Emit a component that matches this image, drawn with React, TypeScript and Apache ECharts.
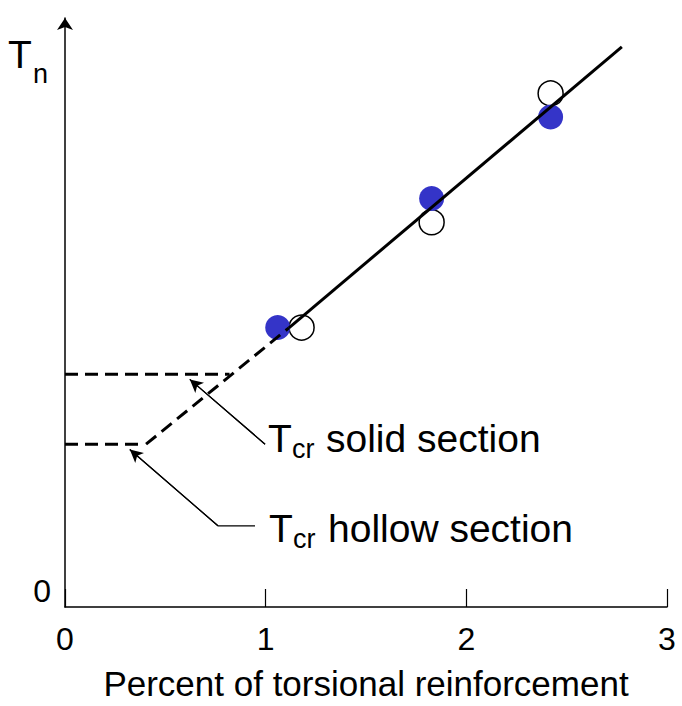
import React, { useEffect, useRef } from "react";
import * as echarts from "echarts";

// ---- data (x: percent of torsional reinforcement, y: relative torque, 0..100) ----
const xTicks = [0, 1, 2, 3];
const solidSection: number[][] = [
  [1.06, 47.45],
  [1.827, 69.35],
  [2.42, 83.2],
];
const hollowSection: number[][] = [
  [1.179, 47.45],
  [1.827, 65.33],
  [2.42, 87.2],
];
const fitLine: number[][] = [
  [1.116, 47.4],
  [2.775, 95.1],
];
const crackingLine: number[][] = [
  [0.404, 27.64],
  [1.116, 47.4],
];
const tcrSolidLevel: number[][] = [
  [0, 39.53],
  [0.82, 39.53],
];
const tcrHollowLevel: number[][] = [
  [0, 27.64],
  [0.364, 27.64],
];
const leaderSolid: number[][] = [
  [0.997, 27.64],
  [0.622, 38.64],
];
const leaderHollow: number[][] = [
  [0.947, 13.79],
  [0.762, 13.79],
  [0.323, 26.75],
];

const FONT = "'Liberation Sans', Arial, Helvetica, sans-serif";

function dashed(data: number[][]) {
  return {
    type: "line",
    data,
    symbol: "none",
    silent: true,
    z: 4,
    lineStyle: { color: "#000", width: 3, type: [13, 7] },
    emphasis: { disabled: true },
  };
}

function leader(data: number[][]) {
  const n = data.length;
  return {
    type: "line",
    data,
    symbol: "none",
    silent: true,
    z: 4,
    lineStyle: { color: "#000", width: 1.2 },
    emphasis: { disabled: true },
    markLine: {
      silent: true,
      animation: false,
      symbol: ["none", "arrow"],
      symbolSize: [10, 13],
      label: { show: false },
      lineStyle: { color: "#000", width: 1.2, type: "solid" },
      itemStyle: { color: "#000" },
      emphasis: { disabled: true },
      data: [[{ coord: data[n - 2] }, { coord: data[n - 1] }]],
    },
  };
}

function txt(x: number, y: number, text: string, size: number) {
  return {
    type: "text",
    x,
    y,
    silent: true,
    style: {
      text,
      fontSize: size,
      fontFamily: FONT,
      fill: "#000",
      align: "left",
      verticalAlign: "middle",
    },
  };
}

export default function App() {
  const ref = useRef<HTMLDivElement>(null);
  useEffect(() => {
    if (!ref.current) return;
    const chart = echarts.init(ref.current, undefined, { renderer: "svg" });
    chart.setOption({
      animation: false,
      backgroundColor: "#fff",
      grid: { left: 65, right: 15, top: 18, bottom: 91, containLabel: false },
      xAxis: {
        type: "value",
        min: xTicks[0],
        max: xTicks[xTicks.length - 1],
        interval: 1,
        name: "Percent of torsional reinforcement",
        nameLocation: "middle",
        nameGap: 59,
        nameTextStyle: { fontSize: 35, fontFamily: FONT, color: "#000" },
        axisLine: { lineStyle: { color: "#000", width: 1.5 } },
        axisTick: { inside: true, length: 18, lineStyle: { color: "#000", width: 1.2 } },
        axisLabel: { fontSize: 32, fontFamily: FONT, color: "#000", margin: 16 },
        splitLine: { show: false },
      },
      yAxis: {
        type: "value",
        min: 0,
        max: 100,
        interval: 100,
        axisLine: {
          show: true,
          symbol: ["none", "arrow"],
          symbolSize: [12, 12],
          lineStyle: { color: "#000", width: 1.5 },
        },
        axisTick: { show: false },
        splitLine: { show: false },
        axisLabel: {
          fontSize: 32,
          fontFamily: FONT,
          color: "#000",
          margin: 14,
          verticalAlign: "bottom",
          formatter: (v: number) => (v === 0 ? "0" : ""),
        },
      },
      series: [
        {
          type: "scatter",
          data: hollowSection,
          symbolSize: 25,
          z: 2,
          silent: true,
          itemStyle: { color: "#fff", borderColor: "#000", borderWidth: 1.5, opacity: 1 },
        },
        {
          type: "scatter",
          data: solidSection,
          symbolSize: 25,
          z: 3,
          silent: true,
          itemStyle: { color: "#3434C8", opacity: 1 },
        },
        {
          type: "line",
          data: fitLine,
          symbol: "none",
          silent: true,
          z: 5,
          lineStyle: { color: "#000", width: 3 },
          emphasis: { disabled: true },
        },
        dashed(crackingLine),
        dashed(tcrSolidLevel),
        dashed(tcrHollowLevel),
        leader(leaderSolid),
        leader(leaderHollow),
      ],
      graphic: [
        txt(8, 54, "T", 39),
        txt(33, 74, "n", 27),
        txt(268, 438, "T", 39),
        txt(292, 449, "cr", 27),
        txt(326, 438, "solid section", 39),
        txt(269, 528, "T", 39),
        txt(293, 539, "cr", 27),
        txt(328, 528, "hollow section", 39),
      ],
    });
    return () => chart.dispose();
  }, []);
  return (
    <div
      ref={ref}
      style={{ position: "fixed", left: 0, top: 0, width: 682, height: 706, background: "#fff" }}
    />
  );
}
